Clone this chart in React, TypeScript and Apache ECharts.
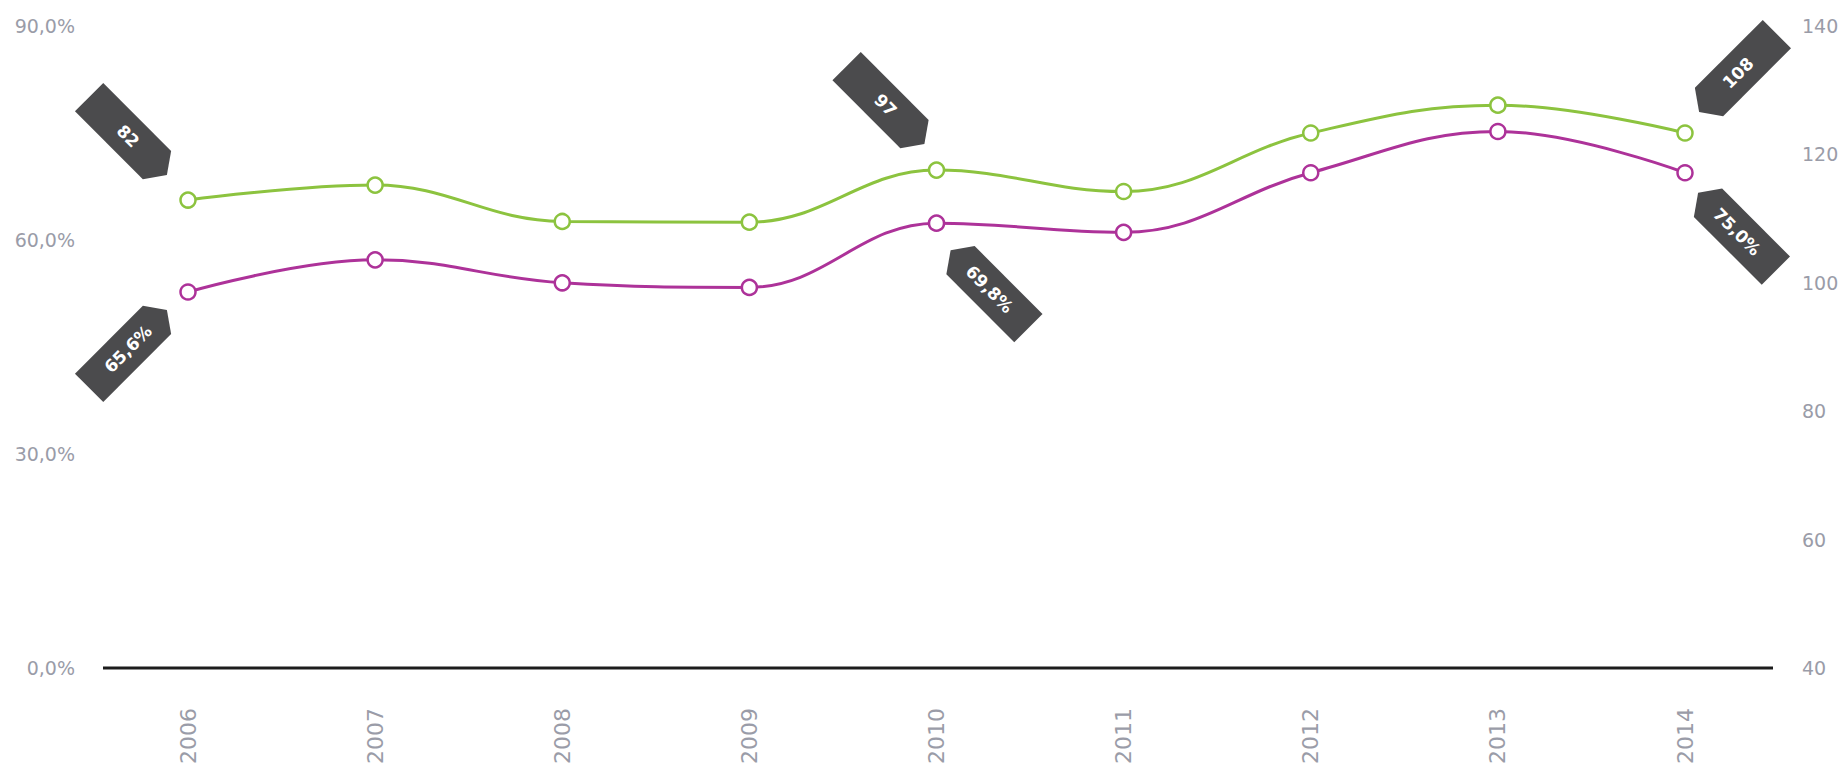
import React, { useEffect, useRef } from 'react';
import * as echarts from 'echarts';

// ---- data ----
const years = ['2006', '2007', '2008', '2009', '2010', '2011', '2012', '2013', '2014'];
const sharePct = [65.6, 67.7, 62.6, 62.5, 69.8, 66.8, 75.0, 78.9, 75.0];
const counts = [82, 89, 84, 83, 97, 95, 108, 117, 108];
const leftTicks = { min: 0, max: 90, interval: 30 };
const rightTicks = { min: 40, max: 140, interval: 20 };
const countScale = { min: 0, max: 140 };
const taggedIdx = [0, 4, 8];

// ---- styles ----
const GREEN = '#8cc33f';
const PURPLE = '#ad3299';
const TAG = '#4b4b4d';
const AXIS_TXT = '#9a9ca8';
const FONT = 'DejaVu Sans';
const TAG_PATH = 'path://M0,0L96,0L110,20L96,40L0,40Z';

const fmtPct = (v: number) => v.toFixed(1).replace('.', ',') + '%';

// tag placement (style only)
const greenTagStyle = [
  { rot: -45, off: [-60, -64], lr: -45 },
  { rot: -45, off: [-51, -65], lr: -45 },
  { rot: -135, off: [53, -60], lr: 45 },
];
const purpleTagStyle = [
  { rot: 45, off: [-60, 57], lr: 45 },
  { rot: 135, off: [53, 66], lr: -45 },
  { rot: 135, off: [52, 59], lr: -45 },
];

export default function App() {
  const ref = useRef<HTMLDivElement>(null);

  useEffect(() => {
    if (!ref.current) return;
    const chart = echarts.init(ref.current, null, { renderer: 'svg' });

    const greenMarks = taggedIdx.map((idx, k) => ({
      name: String(counts[idx]),
      coord: [years[idx], sharePct[idx]],
      symbolRotate: greenTagStyle[k].rot,
      symbolOffset: greenTagStyle[k].off,
      label: { rotate: greenTagStyle[k].lr },
    }));
    const purpleMarks = taggedIdx.map((idx, k) => ({
      name: fmtPct(sharePct[idx]),
      coord: [years[idx], counts[idx]],
      symbolRotate: purpleTagStyle[k].rot,
      symbolOffset: purpleTagStyle[k].off,
      label: { rotate: purpleTagStyle[k].lr },
    }));

    const markPointBase = {
      symbol: TAG_PATH,
      symbolSize: [110, 40],
      itemStyle: { color: TAG },
      label: {
        show: true,
        position: 'inside',
        formatter: '{b}',
        color: '#ffffff',
        fontFamily: FONT,
        fontWeight: 'bold',
        fontSize: 17,
      },
    };

    chart.setOption({
      animation: false,
      backgroundColor: '#ffffff',
      grid: { left: 188, right: 163, top: 26, bottom: 99 },
      graphic: [
        {
          type: 'line',
          shape: { x1: 103, y1: 668, x2: 1773, y2: 668 },
          style: { stroke: '#1c1c1c', lineWidth: 3 },
          z: 1,
        },
      ],
      xAxis: {
        type: 'category',
        data: years,
        boundaryGap: false,
        axisLine: { show: false },
        axisTick: { show: false },
        splitLine: { show: false },
        axisLabel: {
          rotate: 90,
          margin: 40,
          color: AXIS_TXT,
          fontFamily: FONT,
          fontSize: 22,
        },
      },
      yAxis: [
        {
          type: 'value',
          position: 'left',
          min: leftTicks.min,
          max: leftTicks.max,
          interval: leftTicks.interval,
          axisLine: { show: false },
          axisTick: { show: false },
          splitLine: { show: false },
          axisLabel: {
            margin: 113,
            color: AXIS_TXT,
            fontFamily: FONT,
            fontSize: 19,
            formatter: (v: number) => fmtPct(v),
          },
        },
        {
          type: 'value',
          position: 'right',
          min: rightTicks.min,
          max: rightTicks.max,
          interval: rightTicks.interval,
          axisLine: { show: false },
          axisTick: { show: false },
          splitLine: { show: false },
          axisLabel: {
            margin: 117,
            color: AXIS_TXT,
            fontFamily: FONT,
            fontSize: 19,
          },
        },
        {
          type: 'value',
          position: 'right',
          min: countScale.min,
          max: countScale.max,
          show: false,
          splitLine: { show: false },
        },
      ],
      series: [
        {
          name: 'share',
          type: 'line',
          yAxisIndex: 0,
          data: sharePct,
          smooth: 0.4,
          symbol: 'circle',
          symbolSize: 15,
          lineStyle: { color: GREEN, width: 3 },
          itemStyle: { color: '#ffffff', borderColor: GREEN, borderWidth: 2.5 },
          markPoint: { ...markPointBase, data: greenMarks },
          z: 3,
        },
        {
          name: 'count',
          type: 'line',
          yAxisIndex: 2,
          data: counts,
          smooth: 0.4,
          symbol: 'circle',
          symbolSize: 15,
          lineStyle: { color: PURPLE, width: 3 },
          itemStyle: { color: '#ffffff', borderColor: PURPLE, borderWidth: 2.5 },
          markPoint: { ...markPointBase, data: purpleMarks },
          z: 3,
        },
      ],
    });

    return () => chart.dispose();
  }, []);

  return (
    <div
      ref={ref}
      style={{ position: 'absolute', left: 0, top: 0, width: 1848, height: 767, background: '#fff' }}
    />
  );
}
